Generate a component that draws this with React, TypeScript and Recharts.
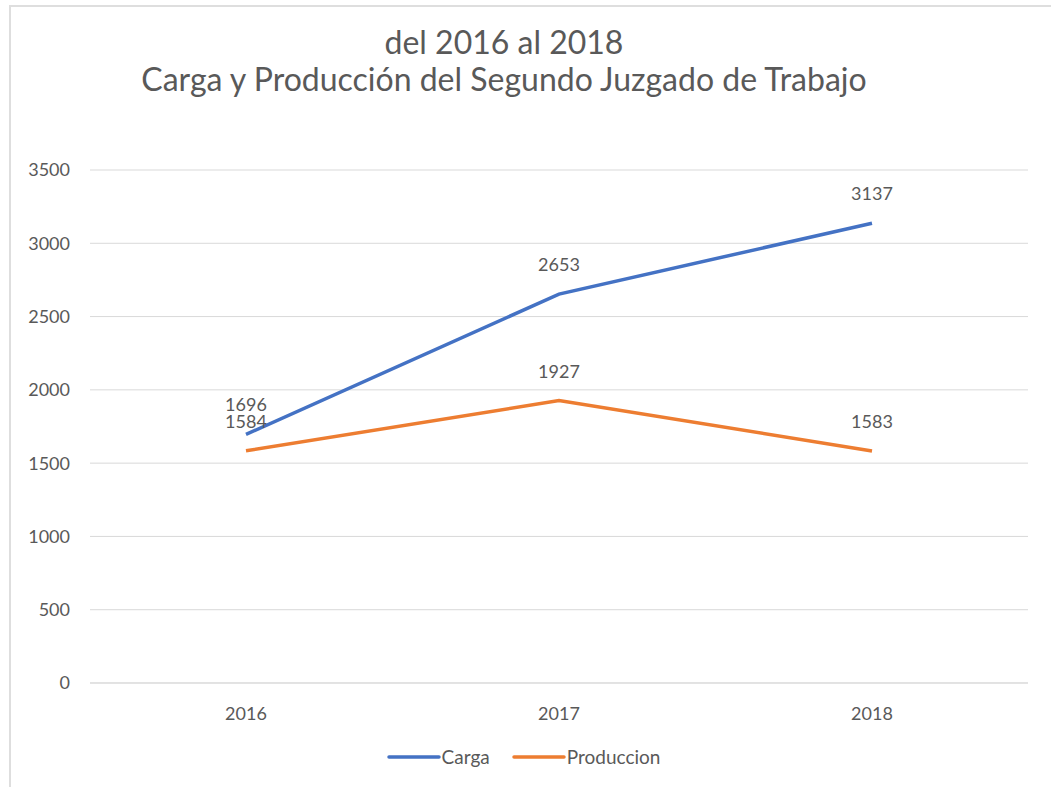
import { CartesianGrid, LabelList, Legend, Line, LineChart, XAxis, YAxis } from "recharts";

const years = ["2016", "2017", "2018"];
const carga = [1696, 2653, 3137];
const produccion = [1584, 1927, 1583];
const yTicks = [0, 500, 1000, 1500, 2000, 2500, 3000, 3500];

const data = years.map((year, i) => ({ year, carga: carga[i], produccion: produccion[i] }));

const FONT = "Lato, 'Open Sans', sans-serif";
const GRAY = "#595959";

function LegendContent() {
  const items = [
    { label: "Carga", color: "#4472C4" },
    { label: "Produccion", color: "#ED7D31" },
  ];
  return (
    <div
      style={{
        display: "flex",
        justifyContent: "center",
        gap: 22,
        fontFamily: FONT,
        fontSize: 19,
        color: GRAY,
        paddingLeft: 10,
        paddingTop: 4,
      }}
    >
      {items.map((it) => (
        <div key={it.label} style={{ display: "flex", alignItems: "center" }}>
          <svg width={54} height={10}>
            <line x1={2} y1={5} x2={52} y2={5} stroke={it.color} strokeWidth={3.5} strokeLinecap="round" />
          </svg>
          <span style={{ marginLeft: 1 }}>{it.label}</span>
        </div>
      ))}
    </div>
  );
}

export default function App() {
  return (
    <div
      style={{
        position: "absolute",
        left: 9,
        top: 5,
        width: 1042,
        height: 782,
        borderLeft: "2px solid #dedede",
        borderTop: "2px solid #dedede",
        background: "#fff",
        boxSizing: "border-box",
      }}
    >
      <div
        style={{
          position: "absolute",
          left: 0,
          top: 16,
          width: 986,
          textAlign: "center",
          fontFamily: FONT,
          fontSize: 32,
          lineHeight: "37px",
          color: GRAY,
        }}
      >
        del 2016 al 2018
        <br />
        Carga y Producción del Segundo Juzgado de Trabajo
      </div>
      <LineChart
        width={1040}
        height={780}
        data={data}
        margin={{ top: 165, right: 21, left: 0, bottom: 0 }}
        style={{ position: "absolute", left: -2, top: -2 }}
      >
        <CartesianGrid vertical={false} stroke="#d9d9d9" />
        <XAxis
          dataKey="year"
          axisLine={{ stroke: "#d9d9d9" }}
          tickLine={false}
          tickMargin={18}
          height={58}
          padding={{ left: 156, right: 156 }}
          tick={{ fill: GRAY, fontSize: 18, fontFamily: FONT }}
        />
        <YAxis
          domain={[0, 3500]}
          ticks={yTicks}
          axisLine={false}
          tickLine={false}
          tickMargin={14}
          width={81}
          tick={{ fill: GRAY, fontSize: 18, fontFamily: FONT }}
        />
        <Legend verticalAlign="bottom" height={44} content={<LegendContent />} />
        <Line
          type="linear"
          dataKey="carga"
          name="Carga"
          stroke="#4472C4"
          strokeWidth={3.5}
          dot={false}
          isAnimationActive={false}
        >
          <LabelList dataKey="carga" position="top" offset={23} fill={GRAY} fontSize={18} fontFamily={FONT} />
        </Line>
        <Line
          type="linear"
          dataKey="produccion"
          name="Produccion"
          stroke="#ED7D31"
          strokeWidth={3.5}
          dot={false}
          isAnimationActive={false}
        >
          <LabelList dataKey="produccion" position="top" offset={23} fill={GRAY} fontSize={18} fontFamily={FONT} />
        </Line>
      </LineChart>
    </div>
  );
}
